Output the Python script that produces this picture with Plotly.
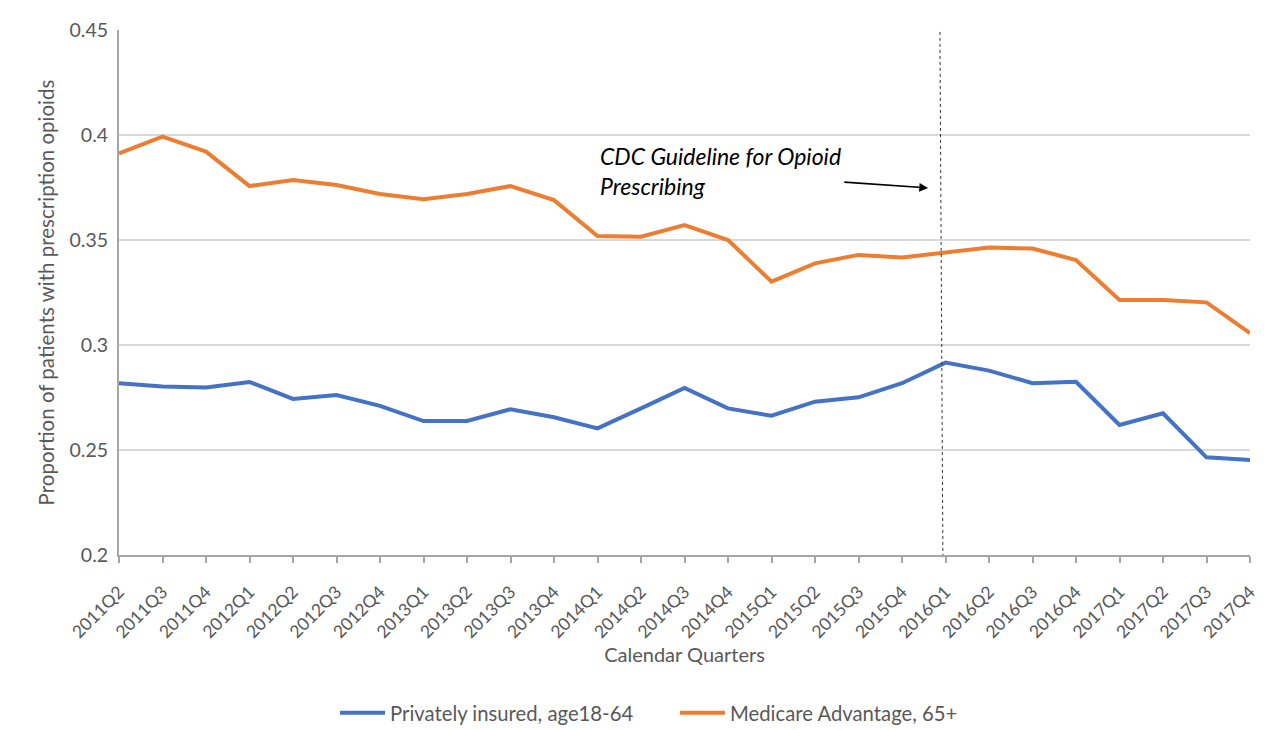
import plotly.graph_objects as go

quarters = ["2011Q2","2011Q3","2011Q4","2012Q1","2012Q2","2012Q3","2012Q4",
            "2013Q1","2013Q2","2013Q3","2013Q4","2014Q1","2014Q2","2014Q3",
            "2014Q4","2015Q1","2015Q2","2015Q3","2015Q4","2016Q1","2016Q2",
            "2016Q3","2016Q4","2017Q1","2017Q2","2017Q3","2017Q4"]

private_insured = [0.2818,0.2802,0.2798,0.2824,0.2743,0.2762,0.2710,
                   0.2638,0.2638,0.2694,0.2656,0.2603,0.2698,0.2796,
                   0.2698,0.2663,0.2730,0.2751,0.2818,0.2916,0.2878,
                   0.2818,0.2825,0.2619,0.2675,0.2465,0.2452]

medicare_adv = [0.3913,0.3992,0.3921,0.3757,0.3786,0.3762,0.3719,
                0.3694,0.3719,0.3757,0.3690,0.3519,0.3516,0.3571,
                0.3500,0.3302,0.3389,0.3429,0.3417,0.3440,0.3464,
                0.3459,0.3405,0.3214,0.3214,0.3203,0.3056]

y_ticks = [0.2, 0.25, 0.3, 0.35, 0.4, 0.45]
y_tick_text = ["0.2", "0.25", "0.3", "0.35", "0.4", "0.45"]

FONT = "Lato, 'Open Sans', sans-serif"
GRAY = "#595959"

fig = go.Figure()
fig.add_trace(go.Scatter(x=quarters, y=private_insured, mode="lines",
                         name="Privately insured, age18-64",
                         line=dict(color="#4472C4", width=4)))
fig.add_trace(go.Scatter(x=quarters, y=medicare_adv, mode="lines",
                         name="Medicare Advantage, 65+",
                         line=dict(color="#ED7D31", width=4)))

# vertical dotted reference line near 2016Q1
fig.add_shape(type="line", xref="x", yref="y",
              x0=18.87, x1=18.94, y0=0.4548, y1=0.2,
              line=dict(color="#333333", width=1, dash="dot"))

fig.add_annotation(xref="x", yref="y", x=18.6, y=0.3748,
                   ax=16.64, ay=0.3776, axref="x", ayref="y",
                   showarrow=True, arrowhead=2, arrowsize=1.1, arrowwidth=1.6,
                   arrowcolor="#000000", text="")
fig.add_annotation(xref="x", yref="y", x=11.0, y=0.3829,
                   xanchor="left", yanchor="middle", align="left",
                   text="<i>CDC Guideline for Opioid<br>Prescribing</i>",
                   showarrow=False,
                   font=dict(family=FONT, size=23, color="#000000"))

fig.update_layout(
    width=1280, height=722,
    margin=dict(l=111, r=38, t=22, b=175, autoexpand=False),
    paper_bgcolor="white", plot_bgcolor="white",
    font=dict(family=FONT, color=GRAY),
    showlegend=True,
    legend=dict(orientation="h", x=0.191, xanchor="left", y=-0.301, yanchor="middle",
                font=dict(size=20.3, color=GRAY), itemwidth=45,
                entrywidth=280, entrywidthmode="pixels"),
    xaxis=dict(type="category", range=[0, 26],
               tickangle=-45, tickfont=dict(size=17.5, color=GRAY),
               ticklabelstandoff=12,
               ticks="outside", ticklen=6, tickcolor="#A6A6A6", tickwidth=2,
               showline=True, linecolor="#A6A6A6", linewidth=2,
               showgrid=False, zeroline=False,
               title=dict(text="Calendar Quarters", font=dict(size=20, color=GRAY),
                          standoff=5)),
    yaxis=dict(range=[0.2, 0.45], tickvals=y_ticks, ticktext=y_tick_text,
               tickfont=dict(size=19.5, color=GRAY), ticklabelstandoff=5,
               showline=True, linecolor="#A6A6A6", linewidth=2,
               showgrid=True, gridcolor="#D9D9D9", gridwidth=1.5,
               zeroline=False, ticks="",
               title=dict(text="Proportion of patients with prescription opioids",
                          font=dict(size=20.5, color=GRAY), standoff=9)),
)

fig.write_html("out.html")
